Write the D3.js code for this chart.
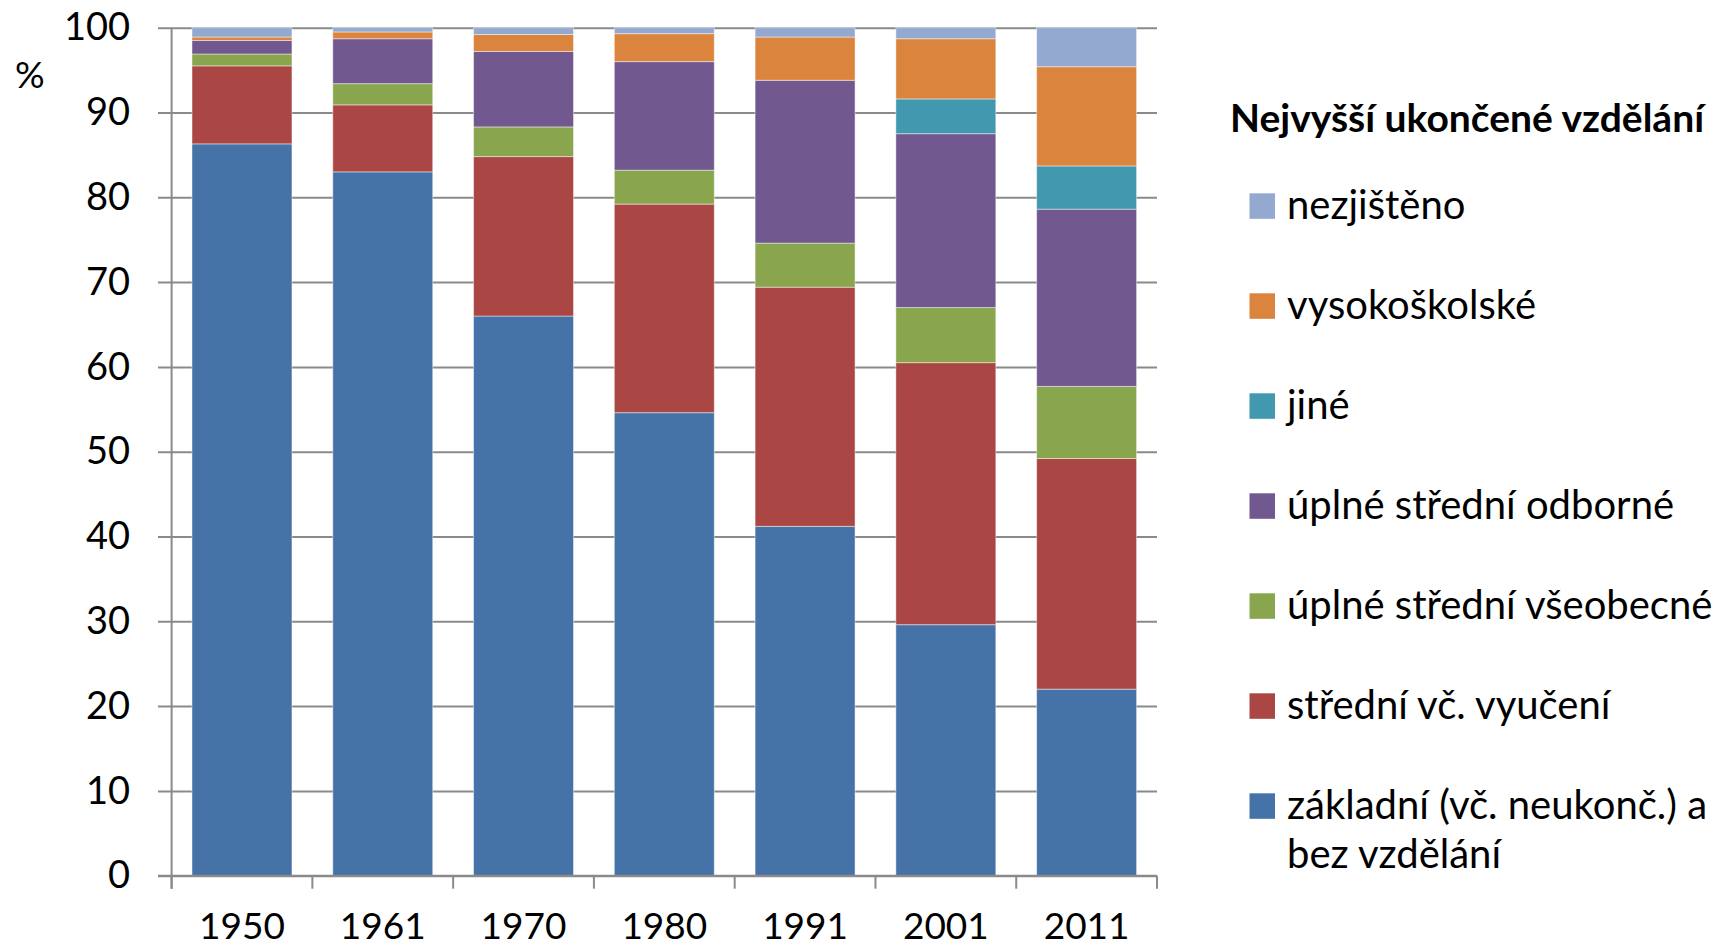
<!DOCTYPE html>
<html><head><meta charset="utf-8">
<script src="https://cdn.jsdelivr.net/npm/d3@7"></script>
<style>html,body{margin:0;padding:0;background:#fff;overflow:hidden}svg{display:block}</style>
</head><body>
<svg id="c" width="1714" height="947"></svg>
<script>
const years = ["1950","1961","1970","1980","1991","2001","2011"];
const seriesNames = ["základní (vč. neukonč.) a bez vzdělání","střední vč. vyučení","úplné střední všeobecné","úplné střední odborné","jiné","vysokoškolské","nezjištěno"];
const seriesColors = ["#4572A7","#AA4643","#89A54E","#71588F","#4198AF","#DB843D","#93A9CF"];
const zakladni   = [86.3, 83.0, 66.0, 54.6, 41.2, 29.6, 22.0];
const stredni    = [ 9.2,  7.9, 18.8, 24.6, 28.2, 30.9, 27.2];
const uplVseob   = [ 1.4,  2.5,  3.5,  4.0,  5.2,  6.5,  8.5];
const uplOdb     = [ 1.6,  5.3,  8.9, 12.8, 19.2, 20.5, 20.9];
const jine       = [ 0.0,  0.0,  0.0,  0.0,  0.0,  4.1,  5.1];
const vysoko     = [ 0.4,  0.8,  2.0,  3.3,  5.1,  7.1, 11.7];
const nezjisteno = [ 1.1,  0.5,  0.8,  0.7,  1.1,  1.3,  4.6];
const yTicks = [0,10,20,30,40,50,60,70,80,90,100];
const legendTitle = "Nejvyšší ukončené vzdělání";
const yUnit = "%";

const seriesValues = [zakladni, stredni, uplVseob, uplOdb, jine, vysoko, nezjisteno];
const keys = seriesNames;
const table = years.map((yr, i) => {
  const o = {year: yr};
  keys.forEach((k, s) => o[k] = seriesValues[s][i]);
  return o;
});

const svg = d3.select("#c");
const FONT = "Lato, 'Open Sans', sans-serif";
const x0 = 171.6, x1 = 1157, yTop = 27.7, yBot = 875.7;
const x = d3.scaleBand().domain(years).range([x0, x1]).paddingInner(0.29).paddingOuter(0.145);
const y = d3.scaleLinear().domain([0, 100]).range([yBot, yTop]);
const color = d3.scaleOrdinal().domain(keys).range(seriesColors);

// gridlines + y labels
const gy = svg.append("g").attr("transform", `translate(${x1},0)`)
  .call(d3.axisLeft(y).tickValues(yTicks).tickSize(x1 - 158).tickPadding(28));
gy.select(".domain").remove();
gy.selectAll(".tick line").attr("stroke", "#8a8a8a").attr("stroke-width", 2);
gy.selectAll(".tick text").attr("font-family", FONT).attr("font-size", 38).attr("fill", "#000");

// bars
const stack = d3.stack().keys(keys)(table);
svg.append("g").selectAll("g").data(stack).join("g")
  .attr("fill", d => color(d.key))
  .selectAll("rect").data(d => d).join("rect")
  .attr("x", d => x(d.data.year))
  .attr("width", x.bandwidth())
  .attr("y", d => y(d[1]))
  .attr("height", d => Math.max(0, y(d[0]) - y(d[1])))
  .attr("stroke", "rgba(255,255,255,0.45)")
  .attr("stroke-width", 1);

// y axis line
svg.append("line").attr("x1", x0).attr("x2", x0).attr("y1", yTop).attr("y2", yBot + 13)
  .attr("stroke", "#8a8a8a").attr("stroke-width", 2);

// x axis
const gx = svg.append("g").attr("transform", `translate(0,${yBot})`)
  .call(d3.axisBottom(x).tickSize(0).tickPadding(63));
gx.select(".domain").attr("stroke", "#8a8a8a").attr("stroke-width", 2).attr("d", `M158,0H${x1}`);
gx.selectAll(".tick text").attr("font-family", FONT).attr("font-size", 37).attr("fill", "#000").attr("dy", "0");
const step = x.step();
const bounds = years.map(yr => x(yr) - (step - x.bandwidth()) / 2).concat([x1]);
svg.append("g").selectAll("line").data(bounds).join("line")
  .attr("x1", d => d).attr("x2", d => d).attr("y1", yBot).attr("y2", yBot + 13)
  .attr("stroke", "#8a8a8a").attr("stroke-width", 2);

// % label
svg.append("text").attr("x", 15).attr("y", 88).attr("font-family", FONT).attr("font-size", 37).attr("fill", "#000").text(yUnit);

// legend
svg.append("text").attr("x", 1230).attr("y", 132).attr("font-family", FONT).attr("font-weight", "bold")
  .attr("font-size", 39).attr("fill", "#000").text(legendTitle);
const legendOrder = keys.slice().reverse();
const lg = svg.append("g");
legendOrder.forEach((k, i) => {
  const cy = 206 + i * 100;
  lg.append("rect").attr("x", 1249.5).attr("y", cy - 12.7).attr("width", 25.5).attr("height", 25.5).attr("fill", color(k));
  const t = lg.append("text").attr("x", 1287).attr("y", cy + 12.7).attr("font-family", FONT).attr("font-size", 40).attr("fill", "#000");
  if (k.startsWith("základní")) {
    t.append("tspan").attr("x", 1287).text("základní (vč. neukonč.) a");
    t.append("tspan").attr("x", 1287).attr("dy", 49).text("bez vzdělání");
  } else {
    t.text(k);
  }
});
</script>
</body></html>
